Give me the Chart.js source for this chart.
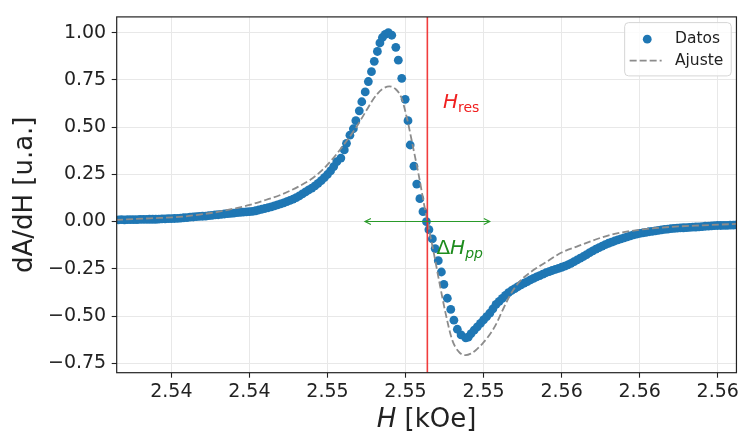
<!DOCTYPE html>
<html>
<head>
<meta charset="utf-8">
<script src="https://cdn.jsdelivr.net/npm/chart.js@4.4.1/dist/chart.umd.min.js"></script>
<style>
  html, body { margin: 0; padding: 0; background: #fff; }
  #wrap { width: 742px; height: 434px; }
</style>
</head>
<body>
<div id="wrap"><canvas id="myChart" width="742" height="434"></canvas></div>
<script>
// H [kOe] y dA/dH normalizada
const hDatos = [
  2.5406, 2.5407, 2.5408, 2.5409, 2.5410, 2.5411, 2.5412, 2.5413, 2.5414, 2.5415, 2.5416, 2.5417,
  2.5418, 2.5419, 2.5420, 2.5421, 2.5422, 2.5423, 2.5424, 2.5425, 2.5426, 2.5427, 2.5428, 2.5429,
  2.5430, 2.5431, 2.5432, 2.5433, 2.5434, 2.5435, 2.5436, 2.5437, 2.5438, 2.5439, 2.5440, 2.5441,
  2.5442, 2.5443, 2.5444, 2.5445, 2.5446, 2.5447, 2.5448, 2.5449, 2.5450, 2.5451, 2.5452, 2.5453,
  2.5454, 2.5455, 2.5456, 2.5457, 2.5458, 2.5459, 2.5460, 2.5461, 2.5462, 2.5463, 2.5464, 2.5465,
  2.5466, 2.5467, 2.5468, 2.5469, 2.5470, 2.5471, 2.5472, 2.5473, 2.5474, 2.5475, 2.5476, 2.5477,
  2.5478,
  2.54793, 2.54804, 2.54811, 2.54822, 2.54833, 2.54841, 2.54852, 2.54860, 2.54871, 2.54881, 2.54891,
  2.54900, 2.54910, 2.54918, 2.54926, 2.54935, 2.54945, 2.54956, 2.54969, 2.54977, 2.54988, 2.54999,
  2.55008, 2.55015, 2.55027, 2.55036, 2.55046, 2.55056, 2.55067, 2.55075, 2.55086, 2.55095, 2.55105,
  2.55115, 2.55123, 2.55134, 2.55145, 2.55155, 2.55166, 2.55178, 2.55193, 2.55201,
  2.5521, 2.5522, 2.5523, 2.5524, 2.5525, 2.5526, 2.5527, 2.5528, 2.5529, 2.5530, 2.5531, 2.5532,
  2.5533, 2.5534, 2.5535, 2.5536, 2.5537, 2.5538, 2.5539, 2.5540, 2.5541, 2.5542, 2.5543, 2.5544,
  2.5545, 2.5546, 2.5547, 2.5548, 2.5549, 2.5550, 2.5551, 2.5552, 2.5553, 2.5554, 2.5555, 2.5556,
  2.5557, 2.5558, 2.5559, 2.5560, 2.5561, 2.5562, 2.5563, 2.5564, 2.5565, 2.5566, 2.5567, 2.5568,
  2.5569, 2.5570, 2.5571, 2.5572, 2.5573, 2.5574, 2.5575, 2.5576, 2.5577, 2.5578, 2.5579, 2.5580,
  2.5581, 2.5582, 2.5583, 2.5584, 2.5585, 2.5586, 2.5587, 2.5588, 2.5589, 2.5590, 2.5591, 2.5592,
  2.5593, 2.5594, 2.5595, 2.5596, 2.5597, 2.5598, 2.5599, 2.5600, 2.5601, 2.5602, 2.5603, 2.5604,
  2.5605, 2.5606, 2.5607
]
const aDatos = [
  0.009, 0.009, 0.009, 0.010, 0.009, 0.010, 0.010, 0.010, 0.010, 0.011, 0.011, 0.011,
  0.012, 0.012, 0.012, 0.013, 0.014, 0.014, 0.015, 0.015, 0.016, 0.017, 0.018, 0.020,
  0.021, 0.023, 0.024, 0.026, 0.027, 0.028, 0.029, 0.031, 0.033, 0.035, 0.036, 0.038,
  0.040, 0.042, 0.043, 0.045, 0.047, 0.049, 0.050, 0.051, 0.052, 0.054, 0.057, 0.061,
  0.065, 0.069, 0.073, 0.078, 0.083, 0.088, 0.093, 0.099, 0.105, 0.112, 0.119, 0.127,
  0.136, 0.146, 0.157, 0.167, 0.177, 0.189, 0.202, 0.216, 0.232, 0.249, 0.268, 0.291,
  0.317,
  0.336, 0.379, 0.414, 0.457, 0.491, 0.534, 0.586, 0.634, 0.686, 0.741, 0.793,
  0.848, 0.900, 0.945, 0.974, 0.991, 1.000, 0.986, 0.922, 0.854, 0.758, 0.647,
  0.534, 0.405, 0.293, 0.198, 0.121, 0.052, 0.000, -0.043, -0.092, -0.143, -0.207,
  -0.267, -0.333, -0.406, -0.465, -0.522, -0.570, -0.600, -0.616, -0.612,
  -0.593, -0.575, -0.557, -0.539, -0.521, -0.503, -0.485, -0.462, -0.438, -0.422, -0.407, -0.391,
  -0.376, -0.365, -0.355, -0.345, -0.335, -0.326, -0.318, -0.309, -0.301, -0.293, -0.286, -0.278,
  -0.271, -0.265, -0.259, -0.253, -0.248, -0.242, -0.236, -0.229, -0.221, -0.212, -0.203, -0.194,
  -0.185, -0.175, -0.164, -0.155, -0.146, -0.138, -0.130, -0.122, -0.115, -0.109, -0.103, -0.097,
  -0.092, -0.086, -0.081, -0.076, -0.071, -0.067, -0.063, -0.060, -0.057, -0.054, -0.052, -0.049,
  -0.047, -0.044, -0.042, -0.040, -0.038, -0.036, -0.035, -0.034, -0.033, -0.032, -0.031, -0.030,
  -0.029, -0.028, -0.027, -0.025, -0.024, -0.023, -0.022, -0.021, -0.021, -0.020, -0.020, -0.019,
  -0.019, -0.018, -0.018
]

const hAjuste = [
  2.54073, 2.54181, 2.54287, 2.54341, 2.54392, 2.54446, 2.54501, 2.54552, 2.54606, 2.54657,
  2.54695, 2.54734, 2.54756, 2.54775, 2.54798, 2.54820, 2.54842, 2.54861, 2.54877, 2.54893,
  2.54909, 2.54925, 2.54948, 2.54967, 2.54986, 2.55005, 2.55024, 2.55043, 2.55059, 2.55075,
  2.55091, 2.55107, 2.55129, 2.55149, 2.55171, 2.55193, 2.55209, 2.55225, 2.55246, 2.55267,
  2.55289, 2.55308, 2.55331, 2.55350, 2.55372, 2.55395, 2.55417, 2.55449, 2.55500, 2.55554,
  2.55609, 2.55660, 2.55714, 2.55768, 2.55819, 2.55874, 2.55928, 2.55979, 2.56072
]
const aAjuste = [
  0.009, 0.017, 0.026, 0.037, 0.049, 0.067, 0.088, 0.114, 0.145, 0.185,
  0.221, 0.273, 0.312, 0.348, 0.397, 0.446, 0.498, 0.550, 0.594, 0.638,
  0.674, 0.700, 0.715, 0.703, 0.659, 0.545, 0.395, 0.240, 0.095, -0.040,
  -0.169, -0.309, -0.490, -0.624, -0.690, -0.707, -0.699, -0.681, -0.647, -0.604,
  -0.547, -0.480, -0.402, -0.350, -0.306, -0.275, -0.249, -0.216, -0.164, -0.129,
  -0.095, -0.069, -0.052, -0.040, -0.032, -0.026, -0.022, -0.018, -0.012
]

const H_RES = 2.5507
const DELTA_HPP = 0.0040

const xTicks = [2.5425, 2.545, 2.5475, 2.55, 2.5525, 2.555, 2.5575, 2.56]
const xTickLabels = ['2.54', '2.54', '2.55', '2.55', '2.55', '2.56', '2.56', '2.56']
const yTicks = [-0.75, -0.5, -0.25, 0, 0.25, 0.5, 0.75, 1.0]
const yTickLabels = ['\u22120.75', '\u22120.50', '\u22120.25', '0.00', '0.25', '0.50', '0.75', '1.00']

const FONT = 'DejaVu Sans'
const TXT = '#222'
Chart.defaults.font.family = FONT

// texto con partes (cursiva, subindices)
const drawParts = (ctx, parts, x, y, align) => {
  let w = 0
  parts.forEach(p => { ctx.font = p.font; w += ctx.measureText(p.text).width })
  let cx = align === 'center' ? x - w / 2 : x
  ctx.textAlign = 'left'
  ctx.textBaseline = 'alphabetic'
  parts.forEach(p => {
    ctx.font = p.font
    ctx.fillText(p.text, cx, y + (p.dy || 0))
    cx += ctx.measureText(p.text).width
  })
}

const extras = {
  id: 'extras',
  afterDatasetsDraw(chart) {
    const { ctx, chartArea: ca, scales: { x, y } } = chart
    ctx.save()
    ctx.beginPath()
    ctx.rect(ca.left, ca.top, ca.right - ca.left, ca.bottom - ca.top)
    ctx.clip()

    // H_res
    const xr = x.getPixelForValue(H_RES)
    ctx.strokeStyle = 'rgba(240,40,40,0.9)'
    ctx.lineWidth = 1.6
    ctx.beginPath()
    ctx.moveTo(xr, ca.top)
    ctx.lineTo(xr, ca.bottom)
    ctx.stroke()

    // flecha Delta H_pp
    const x1 = x.getPixelForValue(H_RES - DELTA_HPP / 2)
    const x2 = x.getPixelForValue(H_RES + DELTA_HPP / 2)
    const y0 = y.getPixelForValue(0)
    ctx.strokeStyle = '#2a9a2a'
    ctx.lineWidth = 1.1
    ctx.beginPath()
    ctx.moveTo(x1, y0); ctx.lineTo(x2, y0)
    ctx.moveTo(x1 + 6, y0 - 3); ctx.lineTo(x1, y0); ctx.lineTo(x1 + 6, y0 + 3)
    ctx.moveTo(x2 - 6, y0 - 3); ctx.lineTo(x2, y0); ctx.lineTo(x2 - 6, y0 + 3)
    ctx.stroke()

    ctx.fillStyle = '#f02020'
    drawParts(ctx, [
      { text: 'H', font: `italic 20px ${FONT}` },
      { text: 'res', font: `14px ${FONT}`, dy: 3.5 }
    ], x.getPixelForValue(2.5512), y.getPixelForValue(0.6))

    ctx.fillStyle = '#1e8c1e'
    drawParts(ctx, [
      { text: '\u0394', font: `20px ${FONT}` },
      { text: 'H', font: `italic 20px ${FONT}` },
      { text: 'pp', font: `italic 14px ${FONT}`, dy: 3.5 }
    ], x.getPixelForValue(2.55099), y.getPixelForValue(-0.172))
    ctx.restore()
  },
  afterDraw(chart) {
    const { ctx, chartArea: ca } = chart
    ctx.save()
    // marco
    ctx.strokeStyle = '#222'
    ctx.lineWidth = 1.2
    ctx.strokeRect(ca.left, ca.top, ca.right - ca.left, ca.bottom - ca.top)

    // titulo eje x
    ctx.fillStyle = TXT
    drawParts(ctx, [
      { text: 'H', font: `italic 26px ${FONT}` },
      { text: ' [kOe]', font: `26px ${FONT}` }
    ], (ca.left + ca.right) / 2, ca.bottom + 54.5, 'center')

    // leyenda
    const lw = 106.6, lh = 53.3
    const lx = ca.right - 5.2 - lw, ly = ca.top + 5.7
    ctx.beginPath()
    ctx.roundRect(lx, ly, lw, lh, 4)
    ctx.fillStyle = 'rgba(255,255,255,0.8)'
    ctx.fill()
    ctx.strokeStyle = '#d6d6d6'
    ctx.lineWidth = 1
    ctx.stroke()

    const ds = chart.data.datasets
    const datos = ds.find(d => d.label === 'Datos')
    const ajuste = ds.find(d => d.label === 'Ajuste')
    ctx.fillStyle = datos.backgroundColor
    ctx.beginPath()
    ctx.arc(lx + 22.6, ly + 16.6, datos.pointRadius, 0, Math.PI * 2)
    ctx.fill()
    ctx.strokeStyle = ajuste.borderColor
    ctx.lineWidth = ajuste.borderWidth
    ctx.setLineDash(ajuste.borderDash)
    ctx.beginPath()
    ctx.moveTo(lx + 5, ly + 38)
    ctx.lineTo(lx + 37, ly + 38)
    ctx.stroke()
    ctx.setLineDash([])

    ctx.fillStyle = TXT
    ctx.font = `15.5px ${FONT}`
    ctx.textBaseline = 'middle'
    ctx.textAlign = 'left'
    ctx.fillText(datos.label, lx + 50.3, ly + 16.8)
    ctx.fillText(ajuste.label, lx + 50.3, ly + 38.3)
    ctx.restore()
  }
}

const datos = hDatos.map((h, i) => ({ x: h, y: aDatos[i] }))
const ajuste = hAjuste.map((h, i) => ({ x: h, y: aAjuste[i] }))

const config = {
  type: 'scatter',
  data: {
    datasets: [
      {
        label: 'Ajuste',
        data: ajuste,
        showLine: true,
        borderColor: '#8c8c8c',
        borderWidth: 1.8,
        borderDash: [7, 3],
        cubicInterpolationMode: 'monotone',
        pointRadius: 0,
        fill: false,
        order: 0,
        clip: 0
      },
      {
        label: 'Datos',
        data: datos,
        backgroundColor: '#1f77b4',
        borderColor: '#1f77b4',
        pointRadius: 4.4,
        pointBorderWidth: 0,
        showLine: false,
        order: 1,
        clip: 0
      }
    ]
  },
  options: {
    responsive: false,
    animation: false,
    devicePixelRatio: 1,
    events: [],
    layout: { padding: { left: 0, right: 3.5, top: 9.3, bottom: 0 } },
    plugins: { legend: { display: false }, tooltip: { enabled: false } },
    scales: {
      x: {
        type: 'linear',
        min: 2.54075,
        max: 2.5606,
        afterFit: s => { s.height = 61.3 },
        afterBuildTicks: s => { s.ticks = xTicks.map(v => ({ value: v })) },
        border: { display: false },
        grid: { color: '#e8e8e8', lineWidth: 1, tickColor: '#222', tickLength: 5, tickWidth: 1.1 },
        ticks: {
          autoSkip: false,
          maxRotation: 0,
          padding: 3,
          color: TXT,
          font: { size: 19 },
          callback: v => xTickLabels[xTicks.indexOf(v)]
        }
      },
      y: {
        min: -0.8,
        max: 1.083,
        afterFit: s => { s.width = 116.7 },
        afterBuildTicks: s => { s.ticks = yTicks.map(v => ({ value: v })) },
        border: { display: false },
        grid: { color: '#e8e8e8', lineWidth: 1, tickColor: '#222', tickLength: 5, tickWidth: 1.1 },
        ticks: {
          autoSkip: false,
          padding: 5.5,
          color: TXT,
          font: { size: 19 },
          callback: v => yTickLabels[yTicks.indexOf(v)]
        },
        title: {
          display: true,
          text: 'dA/dH [u.a.]',
          color: TXT,
          font: { size: 26 },
          padding: { top: 10, bottom: 0 }
        }
      }
    }
  },
  plugins: [extras]
}

const myChart = new Chart(document.getElementById('myChart'), config)
</script>
</body>
</html>
